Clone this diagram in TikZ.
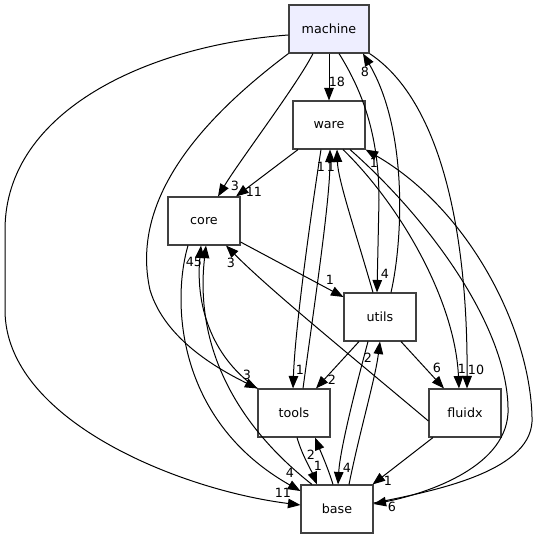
\documentclass[tikz,border=0pt]{standalone}
\usepackage{fontspec}
\setmainfont{DejaVu Sans}
\usetikzlibrary{arrows.meta}
\definecolor{mfill}{HTML}{EEEEFF}
\definecolor{bord}{HTML}{404040}
\tikzset{
  dirbox/.style={draw=bord, line width=1.1pt, fill=white, minimum width=72pt, minimum height=48pt, inner sep=0pt, font=\fontsize{12.7}{15}\selectfont},
  mainbox/.style={dirbox, fill=mfill, minimum width=80pt},
  dep/.style={line width=1pt, -{Triangle[length=12.5pt,width=9.5pt]}},
  lbl/.style={inner sep=0pt, font=\fontsize{12.7}{15}\selectfont}
}
\begin{document}
\begin{tikzpicture}[x=1pt,y=-1pt]
\useasboundingbox (0,0) rectangle (538,539);
% nodes
\node[mainbox] (machine) at (329,29) {machine};
\node[dirbox] (ware) at (329,125) {ware};
\node[dirbox] (core) at (204,221) {core};
\node[dirbox] (utils) at (380,317) {utils};
\node[dirbox] (tools) at (294,413) {tools};
\node[dirbox] (fluidx) at (465,413) {fluidx};
\node[dirbox] (base) at (337,509) {base};
% edges
\draw[dep] (machine.south) -- (ware.north);
\draw[dep] ([xshift=-16pt]machine.south) .. controls (297,85) and (240,160) .. ([xshift=14pt]core.north);
\draw[dep] ([xshift=-31pt]ware.south) -- ([xshift=32pt]core.north);
\draw[dep] (machine.south west) .. controls (200,120) and (130,200) .. (150,290) .. controls (165,340) and (220,370) .. (tools.north west);
\draw[dep] ([yshift=-6pt]machine.west) .. controls (150,45) and (5,110) .. (5,230) -- (5,310) .. controls (5,420) and (180,490) .. ([yshift=4pt]base.west);
\draw[dep] ([xshift=10pt]machine.south) .. controls (365,95) and (379,140) .. (379,200) -- ([xshift=-3pt]utils.north);
\draw[dep] ([xshift=11pt]utils.north) .. controls (403,240) and (408,130) .. ([xshift=34pt]machine.south);
\draw[dep] (machine.south east) .. controls (440,100) and (468,230) .. ([xshift=2pt]fluidx.north);
\draw[dep] ([xshift=-8pt]ware.south) .. controls (310,220) and (295,330) .. ([xshift=-1pt]tools.north);
\draw[dep] ([xshift=9pt]tools.north) .. controls (315,300) and (330,200) .. ([xshift=1pt]ware.south);
\draw[dep] ([xshift=-7pt]utils.north) .. controls (355,230) and (338,180) .. ([xshift=8pt]ware.south);
\draw[dep] ([xshift=14pt]ware.south) .. controls (400,205) and (455,300) .. ([xshift=-6pt]fluidx.north);
\draw[dep] ([xshift=21pt]ware.south) .. controls (430,220) and (510,330) .. (508,413) .. controls (505,470) and (420,495) .. ([yshift=5pt]base.east);
\draw[dep] ([yshift=6pt]base.east) .. controls (440,490) and (535,470) .. (532,417) .. controls (530,330) and (470,210) .. (ware.south east);
\draw[dep] ([yshift=-8pt]fluidx.west) .. controls (350,355) and (270,290) .. ([xshift=22pt]core.south);
\draw[dep] ([yshift=-21pt]core.east) -- ([yshift=20pt]utils.west);
\draw[dep] ([xshift=-21pt]utils.south) -- ([xshift=22pt]tools.north);
\draw[dep] ([xshift=-12pt]utils.south) .. controls (355,390) and (340,450) .. ([xshift=1pt]base.north);
\draw[dep] ([xshift=12pt]base.north) .. controls (360,430) and (375,380) .. (utils.south);
\draw[dep] ([xshift=3pt]tools.south) .. controls (302,455) and (312,472) .. ([xshift=-20pt]base.north);
\draw[dep] ([xshift=-4pt]base.north) .. controls (328,468) and (320,450) .. ([xshift=21pt]tools.south);
\draw[dep] ([xshift=-32pt]fluidx.south) -- ([xshift=-1pt]base.north east);
\draw[dep] ([xshift=21pt]utils.south) -- ([xshift=-21pt]fluidx.north);
\draw[dep] ([xshift=-16pt]core.south) .. controls (172,300) and (175,420) .. ([yshift=18pt]base.west);
\draw[dep] ([xshift=-25pt]base.north) .. controls (230,420) and (195,340) .. ([xshift=2pt]core.south);
\draw[dep] (tools.north west) .. controls (215,360) and (195,310) .. ([xshift=-3pt]core.south);
% labels
\node[lbl] (l1) at (337,82) {18};
\node[lbl] (l2) at (235,186) {3};
\node[lbl] (l3) at (254,192) {11};
\node[lbl] (l4) at (247,375) {3};
\node[lbl] (l5) at (283,493) {11};
\node[lbl] (l6) at (385,274) {4};
\node[lbl] (l7) at (365,72) {8};
\node[lbl] (l8) at (476,370) {10};
\node[lbl] (l9) at (300,370) {1};
\node[lbl] (l10) at (321,167) {1};
\node[lbl] (l11) at (331,167) {1};
\node[lbl] (l12) at (462,369) {1};
\node[lbl] (l13) at (392,507) {6};
\node[lbl] (l14) at (374,163) {1};
\node[lbl] (l15) at (231,263) {3};
\node[lbl] (l16) at (330,280) {1};
\node[lbl] (l17) at (332,380) {2};
\node[lbl] (l18) at (347,468) {4};
\node[lbl] (l19) at (368,358) {2};
\node[lbl] (l20) at (318,466) {1};
\node[lbl] (l21) at (311,455) {2};
\node[lbl] (l22) at (388,481) {1};
\node[lbl] (l23) at (437,368) {6};
\node[lbl] (l24) at (290,473) {4};
\node[lbl] (l25) at (198,262) {5};
\node[lbl] (l26) at (190,262) {4};
\end{tikzpicture}
\end{document}
